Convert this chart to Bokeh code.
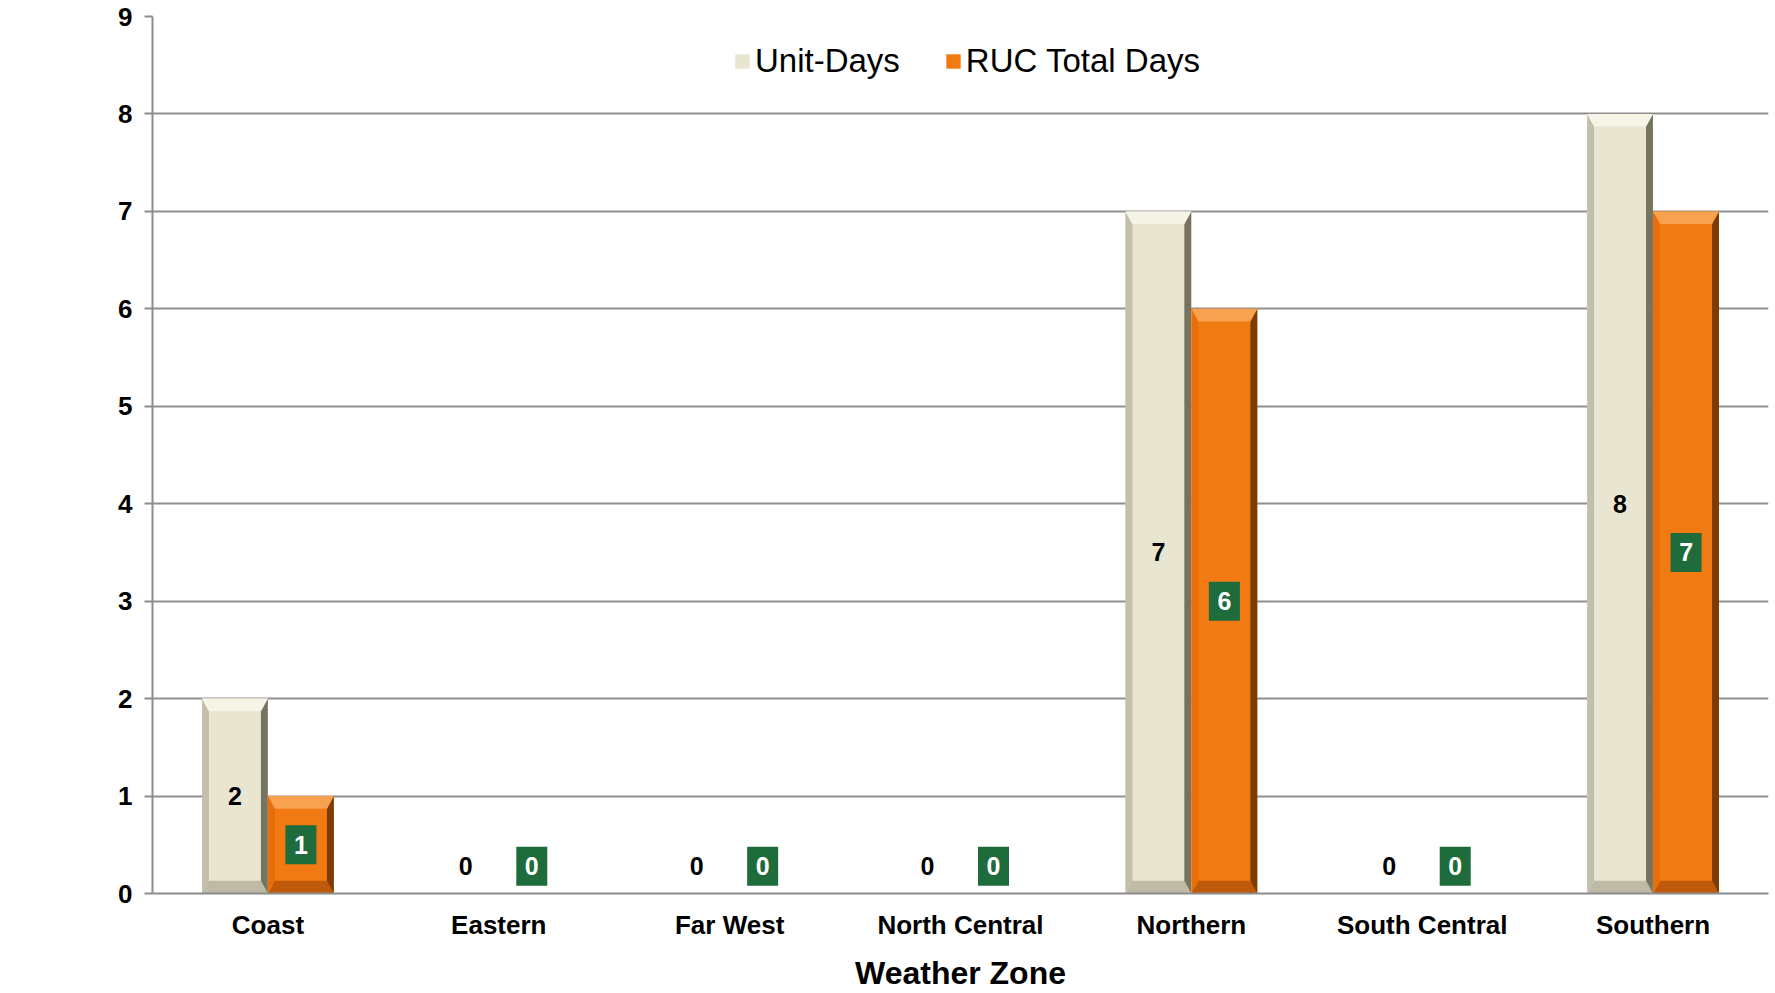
from bokeh.plotting import figure
from bokeh.models import Range1d, FixedTicker, Legend, LegendItem, Label
from bokeh.embed import file_html
from bokeh.resources import INLINE
from bokeh.core.properties import value

# ---- data ----
zones = ["Coast", "Eastern", "Far West", "North Central", "Northern", "South Central", "Southern"]
unit_days = [2, 0, 0, 0, 7, 0, 8]
ruc_days = [1, 0, 0, 0, 6, 0, 7]
y_ticks = [0, 1, 2, 3, 4, 5, 6, 7, 8, 9]

FONT = "Liberation Sans"
W, H = 1775, 993

p = figure(width=W, height=H, output_backend="svg", toolbar_location=None,
           x_range=Range1d(0, len(zones)), y_range=Range1d(0, 9),
           min_border_left=152, min_border_right=7, min_border_top=16, min_border_bottom=99)
p.outline_line_color = None
p.background_fill_color = "white"
p.border_fill_color = "white"

# axes
p.xaxis.ticker = FixedTicker(ticks=[i + 0.5 for i in range(len(zones))])
p.xaxis.major_label_overrides = {i + 0.5: z for i, z in enumerate(zones)}
p.yaxis.ticker = FixedTicker(ticks=y_ticks)
for ax in (p.xaxis, p.yaxis):
    ax.axis_line_color = "#8c8c8c"
    ax.axis_line_width = 2
    ax.major_label_text_font = FONT
    ax.major_label_text_font_style = "bold"
    ax.major_label_text_font_size = "26px"
    ax.major_label_text_color = "black"
    ax.minor_tick_line_color = None
p.xaxis.major_tick_line_color = None
p.xaxis.major_label_standoff = 10
p.yaxis.major_tick_line_color = "#8c8c8c"
p.yaxis.major_tick_line_width = 2
p.yaxis.major_tick_out = 8
p.yaxis.major_tick_in = 0
p.yaxis.major_label_standoff = 12
p.xaxis.axis_label = "Weather Zone"
p.xaxis.axis_label_text_font = FONT
p.xaxis.axis_label_text_font_style = "bold"
p.xaxis.axis_label_text_font_size = "32px"
p.xaxis.axis_label_text_color = "black"
p.xaxis.axis_label_standoff = 12
p.xgrid.grid_line_color = None
p.ygrid.grid_line_color = "#8f8f8f"
p.ygrid.grid_line_width = 2

# y axis title (horizontal)
p.add_layout(Label(x=-0.46, y=4.5, text="Days", text_font=FONT, text_font_style="bold",
                   text_font_size="32px", text_color="black",
                   text_align="center", text_baseline="middle"))

bw = 0.285
off = 0.143
bx = 0.03    # bevel in x units
by = 0.13    # bevel in y units

def bevel_polys(xc, vals):
    tops, lefts, rights, bottoms = ([], []), ([], []), ([], []), ([], [])
    for x, v in zip(xc, vals):
        if v <= 0:
            continue
        l, r = x - bw / 2, x + bw / 2
        tops[0].append([l, r, r - bx, l + bx]); tops[1].append([v, v, v - by, v - by])
        lefts[0].append([l, l + bx, l + bx, l]); lefts[1].append([0, by, v - by, v])
        rights[0].append([r, r - bx, r - bx, r]); rights[1].append([0, by, v - by, v])
        bottoms[0].append([l, r, r - bx, l + bx]); bottoms[1].append([0, 0, by, by])
    return tops, lefts, rights, bottoms

series = [
    (unit_days, -off, "Unit-Days", "#E8E5D1", "#F6F4E7", "#C2BFAA", "#76745F", "#BDBAA6"),
    (ruc_days, off, "RUC Total Days", "#F27A12", "#F8A14E", "#E86E08", "#7E3C05", "#BE5A0A"),
]
items = []
for vals, dx, name, main, top, left, right, bottom in series:
    xc = [i + 0.5 + dx for i in range(len(zones))]
    r = p.vbar(x=xc, top=vals, width=bw, bottom=0, fill_color=main, line_color=None)
    items.append(LegendItem(label=name, renderers=[r]))
    t, lf, rt, bt = bevel_polys(xc, vals)
    for (xs, ys), c in ((bt, bottom), (lf, left), (rt, right), (t, top)):
        if xs:
            p.patches(xs=xs, ys=ys, fill_color=c, line_color=None)

# data labels
ux = [i + 0.5 - off for i in range(len(zones))]
rx = [i + 0.5 + off for i in range(len(zones))]
uy = [max(v / 2, 0.28) for v in unit_days]
ry = [max(v / 2, 0.28) for v in ruc_days]
p.text(x=ux, y=uy, text=[str(v) for v in unit_days], text_font=value(FONT), text_font_style="bold",
       text_font_size="25px", text_color="black", text_align="center", text_baseline="middle")
p.rect(x=rx, y=ry, width=31, height=39, width_units="screen", height_units="screen",
       fill_color="#1E6B3B", line_color=None)
p.text(x=rx, y=ry, text=[str(v) for v in ruc_days], text_font=value(FONT), text_font_style="bold",
       text_font_size="25px", text_color="white", text_align="center", text_baseline="middle")

legend = Legend(items=items, location=(581, 813), orientation="horizontal",
                label_text_font=FONT, label_text_font_size="33px", label_text_color="black",
                glyph_width=18, glyph_height=18, spacing=44, label_standoff=4,
                border_line_color=None, background_fill_alpha=0, margin=0, padding=4)
p.add_layout(legend, "center")

open("out.html", "w").write(file_html(p, INLINE))
